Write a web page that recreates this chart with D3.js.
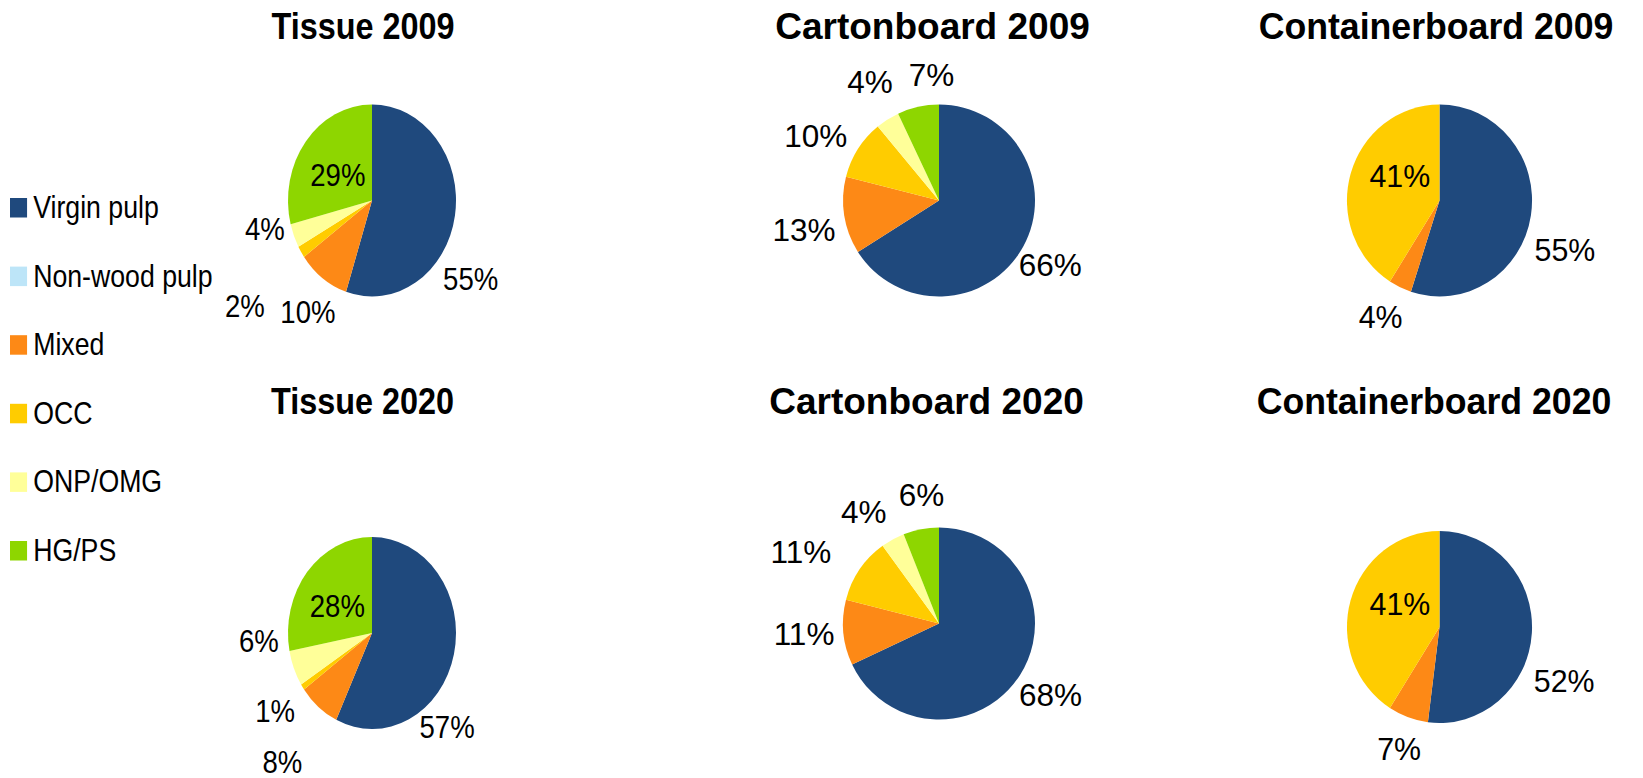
<!DOCTYPE html>
<html>
<head>
<meta charset="utf-8">
<script src="https://cdn.jsdelivr.net/npm/d3@7"></script>
<style>
  html, body { margin: 0; padding: 0; background: #fff; }
  svg { display: block; }
  text { font-family: "Liberation Sans", Arial, sans-serif; fill: #000; }
</style>
</head>
<body>
<svg id="chart" width="1643" height="778"></svg>
<script>
// ---------- data ----------
const categories = ["Virgin pulp", "Non-wood pulp", "Mixed", "OCC", "ONP/OMG", "HG/PS"];
const chartTitles = ["Tissue 2009", "Cartonboard 2009", "Containerboard 2009",
                     "Tissue 2020", "Cartonboard 2020", "Containerboard 2020"];
const tissue2009         = [55, 0, 10, 2, 4, 29];
const cartonboard2009    = [66, 0, 13, 10, 4, 7];
const containerboard2009 = [55, 0, 4, 41, 0, 0];
const tissue2020         = [57, 0, 8, 1, 6, 28];
const cartonboard2020    = [68, 0, 11, 11, 4, 6];
const containerboard2020 = [52, 0, 7, 41, 0, 0];
const seriesValues = [tissue2009, cartonboard2009, containerboard2009,
                      tissue2020, cartonboard2020, containerboard2020];

// ---------- styles / layout ----------
const colors = ["#1F497D", "#BDE5F8", "#FD8916", "#FFCC00", "#FFFF99", "#8ED600"];
const radius = 96;
// pie centre, horizontal squeeze, title anchor
const layout = [
  { cx: 372,    cy: 200.5, sx: 0.875, tx: 363,   ty: 39  },
  { cx: 939,    cy: 200.5, sx: 1.0,   tx: 932.5, ty: 39  },
  { cx: 1439.5, cy: 200.5, sx: 0.964, tx: 1436,  ty: 39  },
  { cx: 372,    cy: 633,   sx: 0.875, tx: 362.5, ty: 414 },
  { cx: 939,    cy: 623.5, sx: 1.0,   tx: 926.5, ty: 414 },
  { cx: 1439.5, cy: 627,   sx: 0.964, tx: 1434,  ty: 414 }
];
// label placement: [angle shift from slice middle (deg), radius factor]
const labelPlacement = [
  [[25.8, 1.43], null, [-2.7, 1.39], [-3.6, 1.87], [8.5, 1.31], [-3.9, 0.49]],
  [[1.3, 1.34],  null, [-3.3, 1.44], [-4.7, 1.45], [2.2, 1.43], [9.2, 1.31]],
  [[11.8, 1.45], null, [2.5, 1.37],  [14.7, 0.5],  null,        null],
  [[35, 1.325],  null, [-1, 1.71],   [-0.9, 1.41], [18, 1.35],  [-5.2, 0.5]],
  [[0.3, 1.38],  null, [1, 1.41],    [-6.8, 1.62], [-5.3, 1.40],[3, 1.35]],
  [[19.1, 1.46], null, [-0.8, 1.34], [13.1, 0.49], null,        null]
];

const svg = d3.select("#chart");
const color = d3.scaleOrdinal().domain(categories).range(colors);
const pie = d3.pie().sort(null).value(d => d.value);
const arc = d3.arc().innerRadius(0).outerRadius(radius);

seriesValues.forEach((vals, ci) => {
  const L = layout[ci];
  const data = categories.map((c, i) => ({ cat: c, value: vals[i], idx: i }));
  const arcs = pie(data);

  // title
  svg.append("g")
    .attr("transform", `translate(${L.tx},${L.ty}) scale(${L.sx},1)`)
    .append("text")
    .attr("text-anchor", "middle")
    .attr("font-weight", "bold")
    .attr("font-size", 37)
    .text(chartTitles[ci]);

  const g = svg.append("g")
    .attr("transform", `translate(${L.cx},${L.cy}) scale(${L.sx},1)`);

  g.selectAll("path.slice")
    .data(arcs.filter(a => a.data.value > 0))
    .join("path")
    .attr("class", "slice")
    .attr("d", arc)
    .attr("fill", d => color(d.data.cat));

  g.selectAll("text.lbl")
    .data(arcs.filter(a => a.data.value > 0 && labelPlacement[ci][a.data.idx]))
    .join("text")
    .attr("class", "lbl")
    .attr("text-anchor", "middle")
    .attr("dy", "0.358em")
    .attr("font-size", 31.5)
    .attr("transform", d => {
      const p = labelPlacement[ci][d.data.idx];
      const mid = (d.startAngle + d.endAngle) / 2 + p[0] * Math.PI / 180;
      const r = p[1] * radius;
      const c = d3.arc().innerRadius(r).outerRadius(r)
        .centroid({ startAngle: mid, endAngle: mid });
      return `translate(${c[0]},${c[1]})`;
    })
    .text(d => d.data.value + "%");
});

// legend (belongs to the squeezed Tissue panel)
const legend = svg.append("g").attr("transform", "translate(10,198) scale(0.875,1)");
const step = 68.6, sq = 19.5;
const items = legend.selectAll("g.item").data(categories).join("g")
  .attr("class", "item")
  .attr("transform", (d, i) => `translate(0,${i * step})`);
items.append("rect")
  .attr("width", sq).attr("height", sq)
  .attr("fill", d => color(d));
items.append("text")
  .attr("x", 26.5)
  .attr("y", sq + 0.5)
  .attr("font-size", 30.5)
  .text(d => d);
</script>
</body>
</html>
